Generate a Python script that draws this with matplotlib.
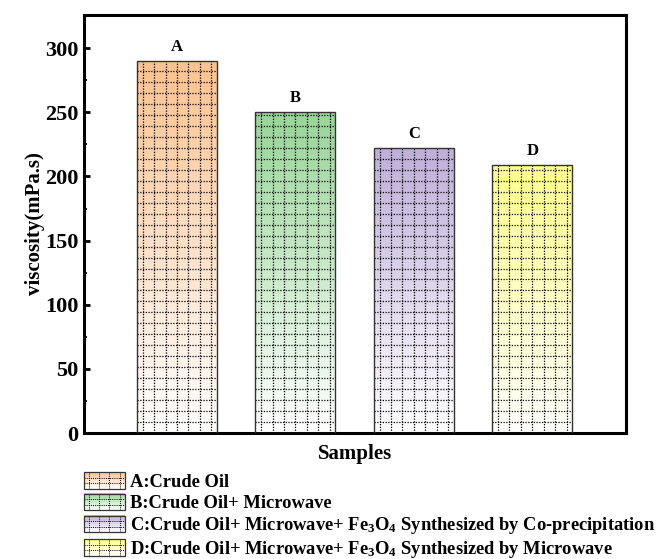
import numpy as np
import matplotlib
matplotlib.use("Agg")
import matplotlib.pyplot as plt
from matplotlib.colors import to_rgb
from matplotlib.patches import Rectangle, Patch
from matplotlib.lines import Line2D
from matplotlib.legend_handler import HandlerBase

plt.rcParams['font.family'] = ['Liberation Serif', 'DejaVu Serif']
plt.rcParams['font.weight'] = 'bold'
plt.rcParams['mathtext.fontset'] = 'custom'
plt.rcParams['mathtext.rm'] = 'Liberation Serif:bold'
plt.rcParams['mathtext.bf'] = 'Liberation Serif:bold'
plt.rcParams['mathtext.it'] = 'Liberation Serif:bold'

# data
samples = ['A', 'B', 'C', 'D']
viscosity = [290, 250, 222, 209]
colors = ['#FCC38F', '#98D598', '#BFAFD9', '#FFFF8C']
legend_labels = [
    'A:Crude Oil',
    'B:Crude Oil+ Microwave',
    r'C:Crude Oil+ Microwave+ Fe$_3$O$_4$ Synthesized by Co-precipitation',
    r'D:Crude Oil+ Microwave+ Fe$_3$O$_4$ Synthesized by Microwave',
]

DOT = (0, (1, 1.2))


def fade(c, t):
    # white at t=0, full colour at t=1
    rgb = np.array(to_rgb(c))
    return tuple((1 - t) + t * rgb)


class GradientSwatch(HandlerBase):
    def create_artists(self, legend, orig_handle, xdescent, ydescent,
                       width, height, fontsize, trans):
        c = orig_handle.get_facecolor()
        x0, y0 = -xdescent, -ydescent
        arts = []
        n = 12
        for i in range(n):
            t = (i + 0.5) / n
            arts.append(Rectangle((x0, y0 + i * height / n), width,
                                  height / n + 0.3, facecolor=fade(c[:3], t),
                                  edgecolor='none', transform=trans))
        for k in range(4):
            xx = x0 + (k + 0.5) * width / 4
            arts.append(Line2D([xx, xx], [y0, y0 + height], color='black',
                               lw=0.7, ls=DOT, transform=trans))
        for yy in (y0 + height / 3, y0 + 2 * height / 3):
            arts.append(Line2D([x0, x0 + width], [yy, yy], color='black',
                               lw=0.7, ls=DOT, transform=trans))
        arts.append(Rectangle((x0, y0), width, height, facecolor='none',
                              edgecolor='#333333', lw=0.9, transform=trans))
        return arts


fig = plt.figure(figsize=(6.56, 5.59), dpi=100)
ax = fig.add_axes([0.128, 0.2254, 0.826, 0.748])

x = np.arange(1, len(samples) + 1)
width = 0.675
grid_dy = 8.55
ncols = 7

for xi, v, c, lab in zip(x, viscosity, colors, samples):
    left = xi - width / 2
    rect = Rectangle((left, 0), width, v, facecolor='none',
                     edgecolor='#333333', lw=1.0, zorder=4)
    ax.add_patch(rect)
    # vertical gradient: white at bottom -> colour at top
    t = np.linspace(0, 1, 256)[:, None]
    rgb = np.array(to_rgb(c))
    grad = (1 - t)[..., None] * np.ones(3) + t[..., None] * rgb
    im = ax.imshow(grad, extent=[left, left + width, 0, v], origin='lower',
                   aspect='auto', zorder=2, interpolation='bilinear')
    im.set_clip_path(rect)
    # dotted grid pattern inside the bar
    for k in range(ncols):
        xx = left + (k + 0.5) * width / ncols
        ax.plot([xx, xx], [0, v], color='black', lw=0.9, ls=DOT, zorder=3)
    yy = grid_dy
    while yy < v - 2:
        ax.plot([left, left + width], [yy, yy], color='black', lw=0.9,
                ls=DOT, zorder=3)
        yy += grid_dy
    ax.text(xi, v + 5, lab, ha='center', va='bottom', fontsize=12,
            fontweight='bold')

ax.set_xlim(0.215, 4.79)
ax.set_ylim(0, 326)
ax.set_xticks([])
ax.set_yticks([0, 50, 100, 150, 200, 250, 300])
ax.set_yticks(np.arange(25, 326, 50), minor=True)
ax.tick_params(axis='y', which='major', direction='in', length=4, width=2,
               labelsize=16, pad=4)
ax.tick_params(axis='y', which='minor', direction='in', length=2, width=1.5)
for s in ax.spines.values():
    s.set_linewidth(2.2)
ax.set_ylabel('viscosity(mPa.s)', fontsize=15, fontweight='bold', labelpad=0)
ax.set_xlabel('Samples', fontsize=15, fontweight='bold', labelpad=8)

handles = [Patch(facecolor=c) for c in colors]
fig.legend(handles, legend_labels, loc='upper left',
           bbox_to_anchor=(84 / 656, 1 - 472 / 559), frameon=False,
           prop={'family': 'Liberation Serif', 'weight': 'bold', 'size': 13.3},
           handler_map={Patch: GradientSwatch()},
           handlelength=2.2, handleheight=1.0, handletextpad=0.3,
           labelspacing=0.16, borderpad=0, borderaxespad=0)

fig.savefig('out.png', dpi=100)
